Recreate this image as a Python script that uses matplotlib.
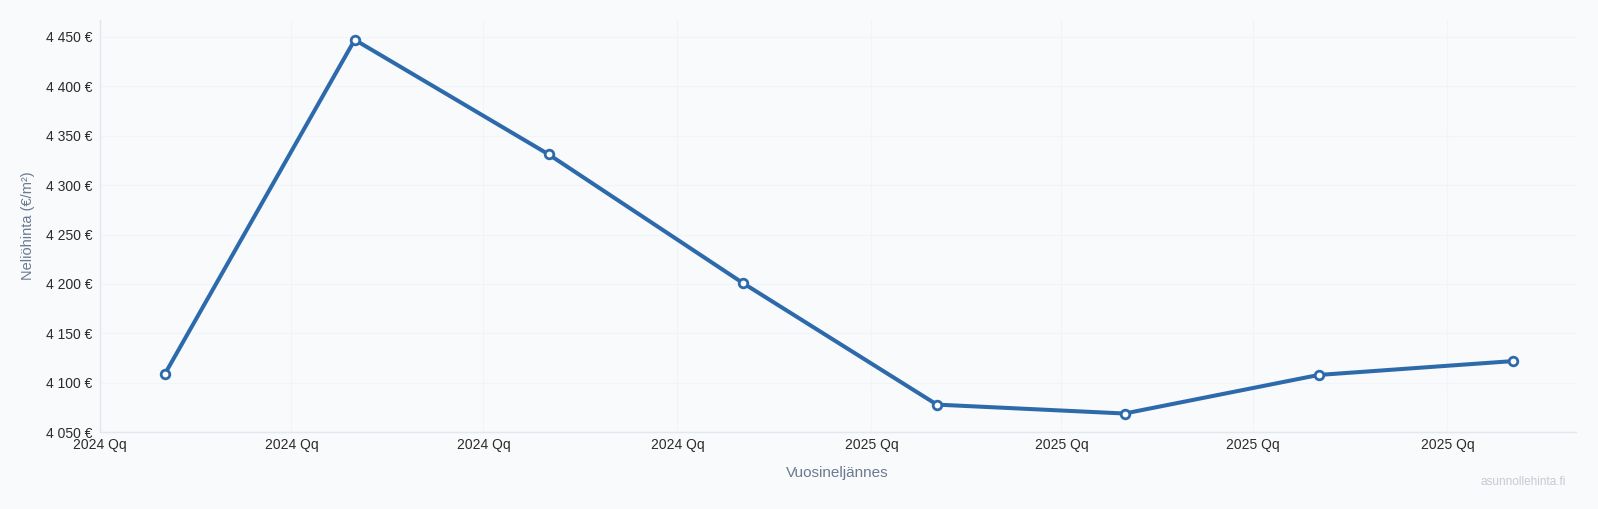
import matplotlib
matplotlib.use("Agg")
import matplotlib.pyplot as plt
import numpy as np

# ---- data ----
point_dates = ["2024-02-01", "2024-05-01", "2024-08-01", "2024-11-01",
               "2025-02-01", "2025-05-01", "2025-08-01", "2025-11-01"]
prices = [4109, 4447, 4331, 4201, 4078, 4069, 4108, 4122]

tick_dates = ["2024-01-01", "2024-04-01", "2024-07-01", "2024-10-01",
              "2025-01-01", "2025-04-01", "2025-07-01", "2025-10-01"]
tick_labels = ["2024 Qq", "2024 Qq", "2024 Qq", "2024 Qq",
               "2025 Qq", "2025 Qq", "2025 Qq", "2025 Qq"]

y_ticks = [4050, 4100, 4150, 4200, 4250, 4300, 4350, 4400, 4450]
y_tick_labels = ["4 050 €", "4 100 €", "4 150 €", "4 200 €", "4 250 €",
                 "4 300 €", "4 350 €", "4 400 €", "4 450 €"]

x_range = ["2024-01-01", "2025-12-01"]
y_range = [4050, 4467]

# ---- style ----
plt.rcParams['font.family'] = ['Liberation Sans', 'DejaVu Sans']
BG = "#f8fafc"
LINE = "#2d6aab"
GRID = "#f1f4f8"
AXIS = "#e2e8f0"

W, H = 1598, 509
fig = plt.figure(figsize=(W / 100, H / 100), dpi=100, facecolor=BG)
left, right, top, bottom = 99.5, 1576, 20, 432.3
ax = fig.add_axes([left / W, 1 - bottom / H, (right - left) / W, (bottom - top) / H])
ax.set_facecolor(BG)

xd = [np.datetime64(d) for d in point_dates]
ax.plot(xd, prices, color=LINE, linewidth=2.9, solid_capstyle="round",
        solid_joinstyle="round", marker="o", markersize=6.2,
        markerfacecolor="white", markeredgecolor=LINE, markeredgewidth=2.0,
        zorder=3)

ax.set_xlim(np.datetime64(x_range[0]), np.datetime64(x_range[1]))
ax.set_ylim(*y_range)

ax.set_xticks([np.datetime64(d) for d in tick_dates])
ax.set_xticklabels(tick_labels)
ax.set_yticks(y_ticks)
ax.set_yticklabels(y_tick_labels)

ax.tick_params(axis="both", length=0, labelsize=10, colors="#2b2b2b")
ax.tick_params(axis="x", pad=4)
ax.tick_params(axis="y", pad=5)

ax.grid(True, color=GRID, linewidth=0.8, zorder=0)
for s in ["top", "right"]:
    ax.spines[s].set_visible(False)
for s in ["left", "bottom"]:
    ax.spines[s].set_color(AXIS)
    ax.spines[s].set_linewidth(1.0)

ax.set_ylabel("Neliöhinta (€/m²)", fontsize=10.5, color="#6b7a90", labelpad=8)
ax.set_xlabel("Vuosineljännes", fontsize=11, color="#6b7a90", labelpad=10)

fig.text(1566 / W, 1 - 481.7 / H, "asunnollehinta.fi", ha="right", va="center",
         fontsize=8.5, color="#c5cad3")

fig.savefig("out.png", dpi=100, facecolor=BG)
